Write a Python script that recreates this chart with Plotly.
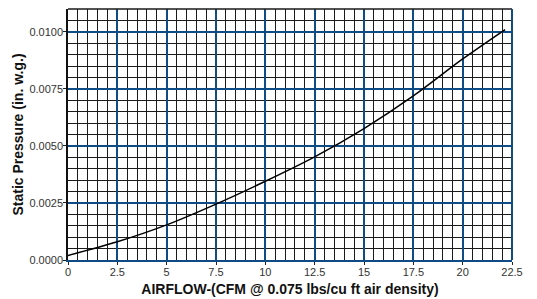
import plotly.graph_objects as go

airflow = [0, 2.5, 5, 7.5, 10, 12.5, 15, 17.5, 20, 22.15]
pressure = [0.0002, 0.0008, 0.00154, 0.00245, 0.00345, 0.00452, 0.00576, 0.00719, 0.00881, 0.0101]

x_ticks = [0, 2.5, 5, 7.5, 10, 12.5, 15, 17.5, 20, 22.5]
x_tick_labels = ["0", "2.5", "5", "7.5", "10", "12.5", "15", "17.5", "20", "22.5"]
y_ticks = [0, 0.0025, 0.005, 0.0075, 0.01]
y_tick_labels = ["0.0000", "0.0025", "0.0050", "0.0075", "0.0100"]

BLUE = "#0f4c86"
MINOR = "#1a1a1a"

fig = go.Figure()
fig.add_trace(go.Scatter(x=airflow, y=pressure, mode="lines",
                         line=dict(color="black", width=1.5, shape="spline", smoothing=0.8),
                         showlegend=False, hoverinfo="skip"))

font = "Liberation Sans, Arial, Helvetica, sans-serif"
# page body has an 8px margin; figure sized to fit the 537x299 window
fig.update_layout(
    width=529, height=291,
    margin=dict(l=60, r=25, t=1, b=39),
    paper_bgcolor="white", plot_bgcolor="white",
    font=dict(family=font, color="#333", size=11),
    xaxis=dict(range=[0, 22.5], tickvals=x_ticks, ticktext=x_tick_labels,
               automargin=False,
               showgrid=True, gridcolor=BLUE, gridwidth=2,
               minor=dict(dtick=0.5, showgrid=True, gridcolor=MINOR, gridwidth=1),
               showline=True, linecolor=BLUE, linewidth=2,
               ticks="outside", ticklen=3, tickcolor="#222", zeroline=False,
               ticklabelstandoff=-2,
               title=dict(text="<b>AIRFLOW-(CFM @ 0.075 lbs/cu ft air density)</b>",
                          font=dict(size=14, color="#111"), standoff=7)),
    yaxis=dict(range=[0, 0.011], tickvals=y_ticks, ticktext=y_tick_labels,
               automargin=False,
               showgrid=True, gridcolor=BLUE, gridwidth=2,
               minor=dict(dtick=0.0005, showgrid=True, gridcolor=MINOR, gridwidth=1),
               showline=True, linecolor="#111", linewidth=1.5,
               ticks="outside", ticklen=3, tickcolor="#222", zeroline=False,
               ticklabelstandoff=-2,
               title=dict(text="<b>Static Pressure (in. w.g.)</b>",
                          font=dict(size=14, color="#111"), standoff=2)),
)
fig.add_shape(type="line", xref="paper", yref="paper", x0=0, x1=1, y0=1, y1=1,
              line=dict(color=MINOR, width=1.5))
fig.add_shape(type="line", xref="paper", yref="paper", x0=1, x1=1, y0=0, y1=1,
              line=dict(color=BLUE, width=2))
fig.write_html("out.html")
